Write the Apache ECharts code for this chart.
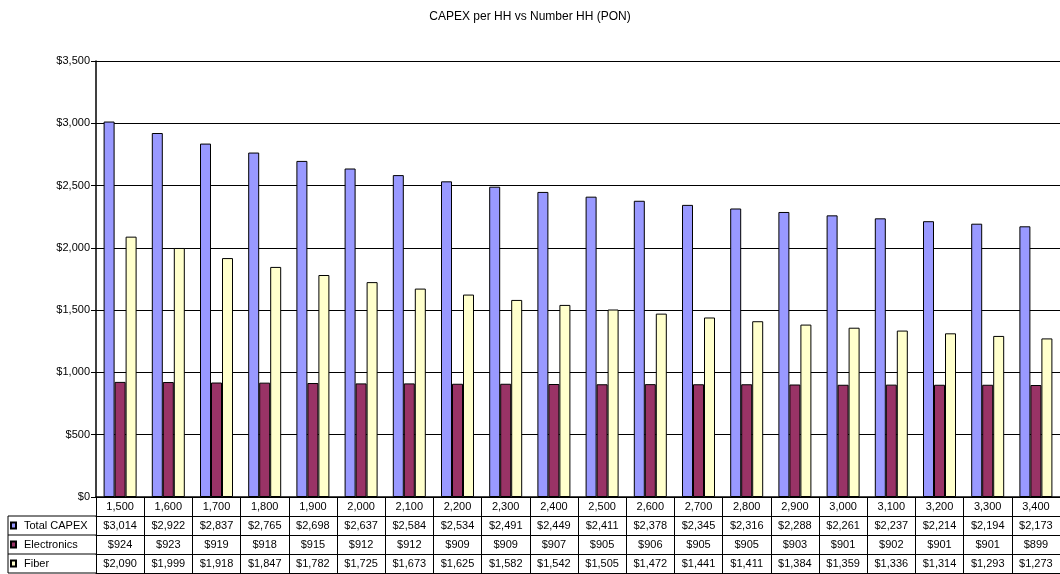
<!DOCTYPE html>
<html>
<head>
<meta charset="utf-8">
<script src="https://cdn.jsdelivr.net/npm/echarts@6/dist/echarts.min.js"></script>
<style>
  html, body { margin: 0; padding: 0; background: #fff; }
  #chart { width: 1060px; height: 574px; }
</style>
</head>
<body>
<div id="chart"></div>
<script>
// number of households per category
var households = [1500, 1600, 1700, 1800, 1900, 2000, 2100, 2200, 2300, 2400,
                   2500, 2600, 2700, 2800, 2900, 3000, 3100, 3200, 3300, 3400];
var totalCapex = [3014, 2922, 2837, 2765, 2698, 2637, 2584, 2534, 2491, 2449,
                  2411, 2378, 2345, 2316, 2288, 2261, 2237, 2214, 2194, 2173];
var electronics = [924, 923, 919, 918, 915, 912, 912, 909, 909, 907,
                   905, 906, 905, 905, 903, 901, 902, 901, 901, 899];
var fiber = [2090, 1999, 1918, 1847, 1782, 1725, 1673, 1625, 1582, 1542,
             1505, 1472, 1441, 1411, 1384, 1359, 1336, 1314, 1293, 1273];
var seriesNames = ['Total CAPEX', 'Electronics', 'Fiber'];
var seriesColors = ['#9999ff', '#993366', '#ffffcc'];

var font = 'Liberation Sans, Arial, sans-serif';
var fmtNum = function (v) { return Number(v).toLocaleString('en-US'); };
var fmtMoney = function (v) { return '$' + fmtNum(v); };

var chart = echarts.init(document.getElementById('chart'));

var rowH = 19;
var tableTop = 497;
var seriesData = [totalCapex, electronics, fiber];

// helper for a table row built as a category axis
function tableAxis(data, offset, showLabel) {
    return {
        type: 'category',
        data: data,
        position: 'bottom',
        offset: offset,
        gridIndex: 0,
        axisLine: {show: true, lineStyle: {color: '#000', width: 1}},
        axisTick: {show: true, interval: 0, length: rowH, lineStyle: {color: '#000', width: 1}},
        axisLabel: {show: showLabel, interval: 0, margin: 4, color: '#000', fontSize: 11, fontFamily: font},
        splitLine: {show: false}
    };
}

var xAxes = [
    tableAxis(households.map(fmtNum), 0, true),
    tableAxis(totalCapex.map(fmtMoney), rowH, true),
    tableAxis(electronics.map(fmtMoney), rowH * 2, true),
    tableAxis(fiber.map(fmtMoney), rowH * 3, true),
    tableAxis(households.map(fmtNum), rowH * 4, false)
];
xAxes[4].axisTick.show = false;
xAxes[0].axisLine.lineStyle.width = 1.5;

// one legend per table row, acting as the row header
var legends = seriesNames.map(function (name, i) {
    return {
        data: [name],
        left: 10,
        top: tableTop + rowH * (i + 1) + 4,
        padding: 0,
        icon: 'rect',
        itemWidth: 5,
        itemHeight: 6,
        itemGap: 0,
        selectedMode: false,
        textStyle: {color: '#000', fontSize: 11, fontFamily: font, padding: [0, 0, 0, 3]}
    };
});

var headerLines = [];
for (var i = 0; i < 4; i++) {
    headerLines.push({
        type: 'line',
        shape: {x1: 8, y1: tableTop + rowH * (i + 1), x2: 96, y2: tableTop + rowH * (i + 1)},
        style: {stroke: '#000', lineWidth: 1}
    });
}
headerLines.push({
    type: 'line',
    shape: {x1: 8, y1: tableTop + rowH, x2: 8, y2: tableTop + rowH * 4},
    style: {stroke: '#000', lineWidth: 1}
});

chart.setOption({
    backgroundColor: '#fff',
    animation: false,
    title: {
        text: 'CAPEX per HH vs Number HH (PON)',
        left: 'center',
        top: 6,
        textStyle: {fontSize: 12, fontWeight: 'normal', color: '#000', fontFamily: font}
    },
    legend: legends,
    grid: {left: 96, right: -10, top: 61, bottom: 77, containLabel: false},
    xAxis: xAxes,
    yAxis: {
        type: 'value',
        min: 0,
        max: 3500,
        interval: 500,
        axisLine: {show: true, lineStyle: {color: '#000', width: 1.5}},
        axisTick: {show: true, length: 5, lineStyle: {color: '#000'}},
        axisLabel: {formatter: fmtMoney, color: '#000', fontSize: 11, fontFamily: font, margin: 6},
        splitLine: {show: true, lineStyle: {color: '#000', width: 1}}
    },
    series: seriesNames.map(function (name, i) {
        return {
            name: name,
            type: 'bar',
            data: seriesData[i],
            barWidth: 11,
            barGap: '0%',
            itemStyle: {color: seriesColors[i], borderColor: '#000', borderWidth: 1},
            emphasis: {disabled: true}
        };
    }),
    graphic: headerLines
});
</script>
</body>
</html>
